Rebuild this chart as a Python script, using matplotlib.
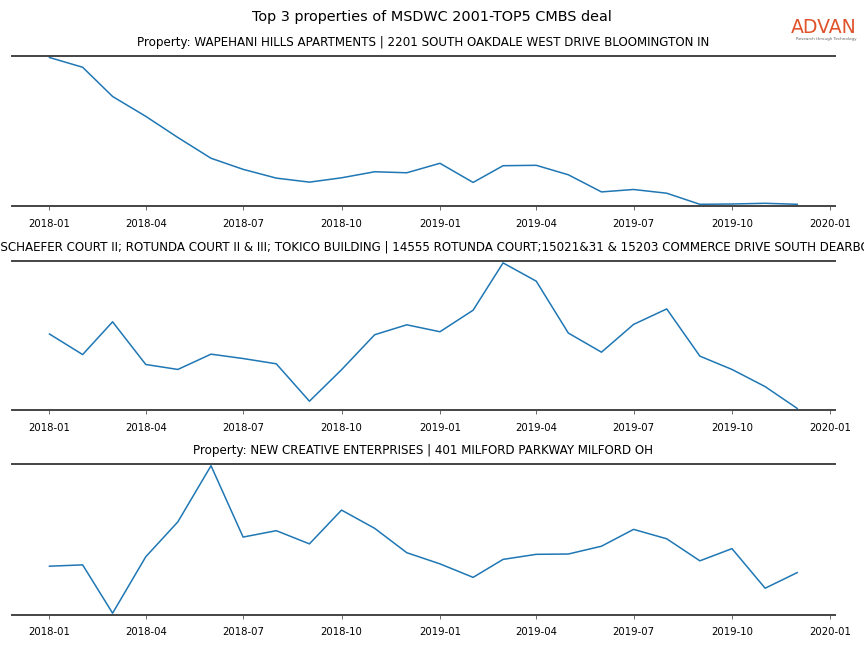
import matplotlib
matplotlib.use("Agg")
import matplotlib.pyplot as plt
import matplotlib.dates as mdates
import pandas as pd

months = pd.date_range("2018-01-01", "2019-12-01", freq="MS")

titles = [
    "Property: WAPEHANI HILLS APARTMENTS | 2201 SOUTH OAKDALE WEST DRIVE BLOOMINGTON IN",
    "Property: SCHAEFER COURT II; ROTUNDA COURT II & III; TOKICO BUILDING | 14555 ROTUNDA COURT;15021&31 & 15203 COMMERCE DRIVE SOUTH DEARBORN MI",
    "Property: NEW CREATIVE ENTERPRISES | 401 MILFORD PARKWAY MILFORD OH",
]

wapehani = [147.7, 138, 109, 89.3, 68.3, 47.7, 36.7, 28, 24, 28.3, 34.3, 33.3,
            42.7, 23.7, 40.3, 40.7, 31.3, 14.3, 16.7, 13, 2, 2.3, 3, 2]
schaefer = [75.7, 55, 88, 45, 40, 55.4, 51, 45.7, 8, 39.7, 75, 85,
            78, 99.7, 147.4, 129, 76.7, 57.4, 85.4, 101, 53.4, 40, 22.7, 0.7]
creative = [48.7, 50, 2.4, 58, 92.4, 147.7, 77.4, 83.7, 70.7, 104, 86, 62,
            51, 37.7, 55.4, 60.4, 60.7, 68.4, 85, 75.7, 54, 66, 27, 42.4]

series = [wapehani, schaefer, creative]

fig = plt.figure(figsize=(8.64, 6.48), dpi=100)
fig.suptitle("Top 3 properties of MSDWC 2001-TOP5 CMBS deal", fontsize=10.4, y=0.984)

# axes boxes: left, bottom, width, height
boxes = [[0.014, 0.682, 0.952, 0.232],
         [0.014, 0.367, 0.952, 0.230],
         [0.014, 0.051, 0.952, 0.233]]

for box, title, vals in zip(boxes, titles, series):
    ax = fig.add_axes(box)
    ax.plot(months, vals, color="#1f77b4", linewidth=1.1)
    span = max(vals) - min(vals)
    ax.set_ylim(min(vals) - 0.012 * span, max(vals) + 0.012 * span)
    ax.set_title(title, fontsize=8.6, pad=7)
    ax.spines["left"].set_visible(False)
    ax.spines["right"].set_visible(False)
    for s in ("top", "bottom"):
        ax.spines[s].set_color("#444444")
        ax.spines[s].set_linewidth(1.4)
    ax.set_yticks([])
    ax.xaxis.set_major_locator(mdates.MonthLocator(bymonth=[1, 4, 7, 10]))
    ax.xaxis.set_major_formatter(mdates.DateFormatter("%Y-%m"))
    ax.tick_params(axis="x", labelsize=7.3, length=3, width=0.6, color="#555555", pad=6)

# logo
fig.text(0.992, 0.943, "ADVAN", color="#E0522A", fontsize=13.6, fontweight="medium",
         ha="right", va="bottom")
fig.text(0.992, 0.936, "Research through Technology", color="#666666", fontsize=3,
         ha="right", va="bottom")

fig.savefig("out.png", dpi=100)
